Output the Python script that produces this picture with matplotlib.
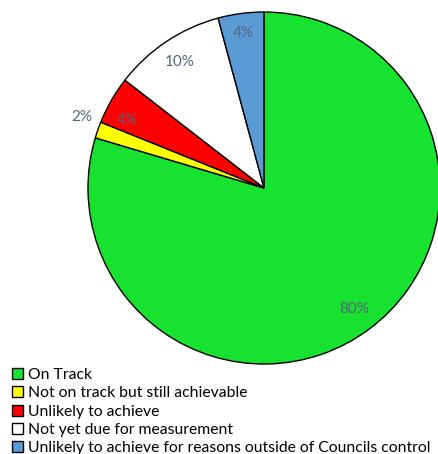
import numpy as np
import matplotlib.pyplot as plt
from matplotlib.patches import Patch

categories = ['On Track', 'Not on track but still achievable', 'Unlikely to achieve',
              'Not yet due for measurement',
              'Unlikely to achieve for reasons outside of Councils control']
values = [79.6, 1.5, 4.4, 10.3, 4.2]
pct_labels = ['80%', '2%', '4%', '10%', '4%']
colors = ['#17E22F', '#FFFF00', '#FF0000', '#FFFFFF', '#5B9BD5']

plt.rcParams['font.family'] = ['Lato', 'DejaVu Sans']

fig = plt.figure(figsize=(4.39, 4.54), dpi=100)
ax = fig.add_axes([88 / 439, (454 - 364) / 454, 352 / 439, 352 / 454])
wedges, _ = ax.pie(values, colors=colors, startangle=90, counterclock=False,
                   wedgeprops=dict(edgecolor='black', linewidth=1))
ax.set_xlim(-1, 1)
ax.set_ylim(-1, 1)

# label placement (radius, angle nudge) to mimic the original
lab_r = [0.86, 1.11, 0.87, 0.86, 0.89]
lab_da = [0, -2, 3.5, 0, 0]
for w, t, r, da in zip(wedges, pct_labels, lab_r, lab_da):
    a = np.deg2rad((w.theta1 + w.theta2) / 2 + da)
    ax.text(r * np.cos(a), r * np.sin(a), t, ha='center', va='center',
            fontsize=11, color='#56647A')

handles = [Patch(facecolor=c, edgecolor='black', linewidth=1) for c in colors]
fig.legend(handles, categories, loc='upper left', bbox_to_anchor=(0.028, 0.19),
           frameon=False, fontsize=11.3, handlelength=0.7, handleheight=0.7,
           handletextpad=0.3, labelspacing=0.28, borderpad=0, borderaxespad=0)

fig.savefig('out.png', dpi=100)
